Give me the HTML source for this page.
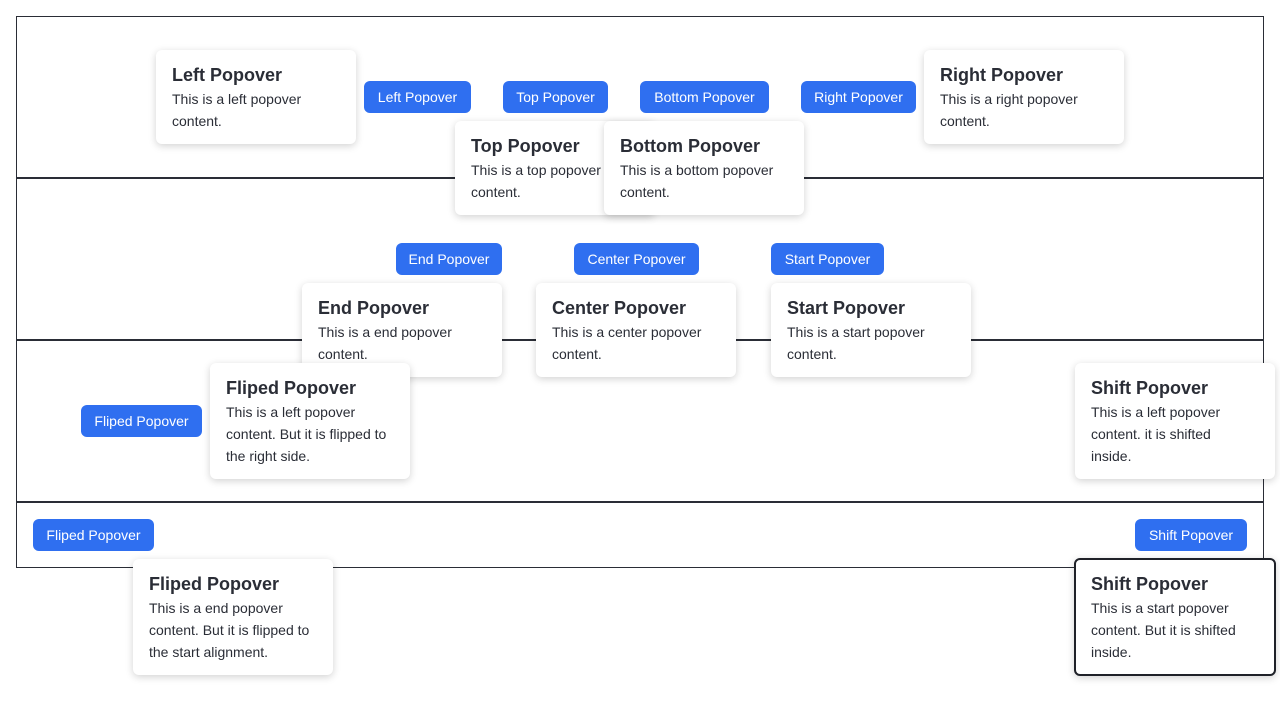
<!DOCTYPE html>
<html><head><style>
body{margin:0;width:1280px;height:720px;background:#fff;position:relative;font-family:"Liberation Sans",sans-serif;overflow:hidden}
.ln{position:absolute;background:#2a2d36}
.b{position:absolute;height:32px;line-height:32px;background:#2f6ff0;color:#fff;border-radius:6px;font-size:14px;text-align:center}
.p{position:absolute;width:200px;height:94px;background:#fff;border-radius:6px;box-shadow:0 2px 8px rgba(0,0,0,.18);box-sizing:border-box;padding:14px 16px;color:#2a2d36}
.p h{display:block;font-size:18px;font-weight:bold;line-height:22px;margin-bottom:2px}
.p div{font-size:14px;line-height:22px}
.t{height:116px}
</style></head><body>
<div style="position:absolute;left:16px;top:16px;width:1246px;height:550px;border:1px solid #2a2d36"></div>
<div class="ln" style="left:16px;top:177px;width:1248px;height:2px"></div>
<div class="ln" style="left:16px;top:339px;width:1248px;height:2px"></div>
<div class="ln" style="left:16px;top:501px;width:1248px;height:2px"></div>

<div class="b" style="left:364px;top:81px;width:107px">Left Popover</div>
<div class="b" style="left:503px;top:81px;width:105px">Top Popover</div>
<div class="b" style="left:640px;top:81px;width:129px">Bottom Popover</div>
<div class="b" style="left:801px;top:81px;width:115px">Right Popover</div>
<div class="b" style="left:396px;top:243px;width:106px">End Popover</div>
<div class="b" style="left:574px;top:243px;width:125px">Center Popover</div>
<div class="b" style="left:771px;top:243px;width:113px">Start Popover</div>
<div class="b" style="left:81px;top:405px;width:121px">Fliped Popover</div>
<div class="b" style="left:33px;top:519px;width:121px">Fliped Popover</div>
<div class="b" style="left:1135px;top:519px;width:112px">Shift Popover</div>

<div class="p" style="left:156px;top:50px"><h>Left Popover</h><div>This is a left popover<br>content.</div></div>
<div class="p" style="left:924px;top:50px"><h>Right Popover</h><div>This is a right popover<br>content.</div></div>
<div class="p" style="left:455px;top:121px"><h>Top Popover</h><div>This is a top popover<br>content.</div></div>
<div class="p" style="left:604px;top:121px"><h>Bottom Popover</h><div>This is a bottom popover<br>content.</div></div>
<div class="p" style="left:302px;top:283px"><h>End Popover</h><div>This is a end popover<br>content.</div></div>
<div class="p" style="left:536px;top:283px"><h>Center Popover</h><div>This is a center popover<br>content.</div></div>
<div class="p" style="left:771px;top:283px"><h>Start Popover</h><div>This is a start popover<br>content.</div></div>
<div class="p t" style="left:210px;top:363px"><h>Fliped Popover</h><div>This is a left popover<br>content. But it is flipped to<br>the right side.</div></div>
<div class="p t" style="left:1075px;top:363px"><h>Shift Popover</h><div>This is a left popover<br>content. it is shifted<br>inside.</div></div>
<div class="p t" style="left:133px;top:559px"><h>Fliped Popover</h><div>This is a end popover<br>content. But it is flipped to<br>the start alignment.</div></div>
<div class="p t" style="left:1074px;top:558px;width:202px;height:118px;border:2px solid #1f2128;padding:13px 15px"><h>Shift Popover</h><div>This is a start popover<br>content. But it is shifted<br>inside.</div></div>
</body></html>
